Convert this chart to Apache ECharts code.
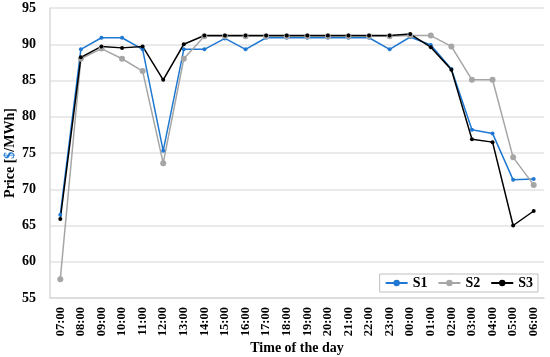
<!DOCTYPE html>
<html><head><meta charset="utf-8">
<script src="https://cdn.jsdelivr.net/npm/echarts@6/dist/echarts.min.js"></script>
<style>html,body{margin:0;padding:0;background:#fff}#c{width:550px;height:357px}</style>
</head><body><div id="c"></div>
<script>
var categories = ['07:00','08:00','09:00','10:00','11:00','12:00','13:00','14:00','15:00','16:00','17:00','18:00','19:00','20:00','21:00','22:00','23:00','00:00','01:00','02:00','03:00','04:00','05:00','06:00'];
var s1 = [66.5,89.3,90.9,90.9,89.3,75.3,89.3,89.3,90.8,89.3,90.9,90.9,90.9,90.9,90.9,90.9,89.3,91.0,89.9,86.6,78.2,77.7,71.3,71.4];
var s2 = [57.6,88.0,89.4,88.0,86.3,73.6,88.0,91.1,91.1,91.1,91.1,91.1,91.1,91.1,91.1,91.1,91.1,91.2,91.2,89.7,85.1,85.1,74.4,70.6];
var s3 = [65.9,88.2,89.7,89.5,89.7,85.1,90.0,91.2,91.2,91.2,91.2,91.2,91.2,91.2,91.2,91.2,91.2,91.4,89.6,86.5,76.9,76.5,65.0,67.0];
var yTicks = {min:55, max:95, interval:5};
var font = 'Liberation Serif';
var chart = echarts.init(document.getElementById('c'), null, {renderer:'canvas'});
function ser(name, data, color, size){
  return {name:name, type:'line', data:data, symbol:'circle', symbolSize:size,
    lineStyle:{color:color, width:1.5}, itemStyle:{color:color}, emphasis:{disabled:true}};
}
chart.setOption({
  animation:false,
  grid:{left:50, right:6, top:8, bottom:59, containLabel:false, outerBoundsMode:'none'},
  legend:{right:12, top:274, orient:'horizontal', borderColor:'#bfbfbf', borderWidth:1,
    padding:[2,5,2,5], itemGap:10, itemWidth:22, itemHeight:8,
    textStyle:{fontFamily:font, fontWeight:'bold', fontSize:14, color:'#000'},
    data:['S1','S2','S3']},
  xAxis:{type:'category', data:categories, boundaryGap:true,
    axisLine:{lineStyle:{color:'#d9d9d9', width:1.5}}, axisTick:{show:false},
    axisLabel:{rotate:90, interval:0, margin:9, fontFamily:font, fontWeight:'bold', fontSize:12.5, color:'#000'},
    name:'Time of the day', nameLocation:'middle', nameGap:43, nameMoveOverlap:false,
    nameTextStyle:{fontFamily:font, fontWeight:'bold', fontSize:14, color:'#000'}},
  yAxis:{type:'value', min:yTicks.min, max:yTicks.max, interval:yTicks.interval,
    axisLine:{show:true, lineStyle:{color:'#d9d9d9', width:1.5}}, axisTick:{show:false},
    splitLine:{lineStyle:{color:'#e3e3e3', width:1.5}},
    axisLabel:{margin:14, fontFamily:font, fontWeight:'bold', fontSize:14, color:'#000'},
    name:'{a|Price [}{b|$}{a|/MWh]}', nameLocation:'middle', nameGap:33, nameRotate:90, nameMoveOverlap:false,
    nameTextStyle:{rich:{
      a:{fontFamily:font, fontWeight:'bold', fontSize:14, color:'#000'},
      b:{fontFamily:font, fontWeight:'bold', fontSize:14, color:'#1f78d1'}}}},
  series:[ser('S1', s1, '#1f78d1', 4), ser('S2', s2, '#a6a6a6', 6), ser('S3', s3, '#000000', 4)]
});
</script></body></html>
